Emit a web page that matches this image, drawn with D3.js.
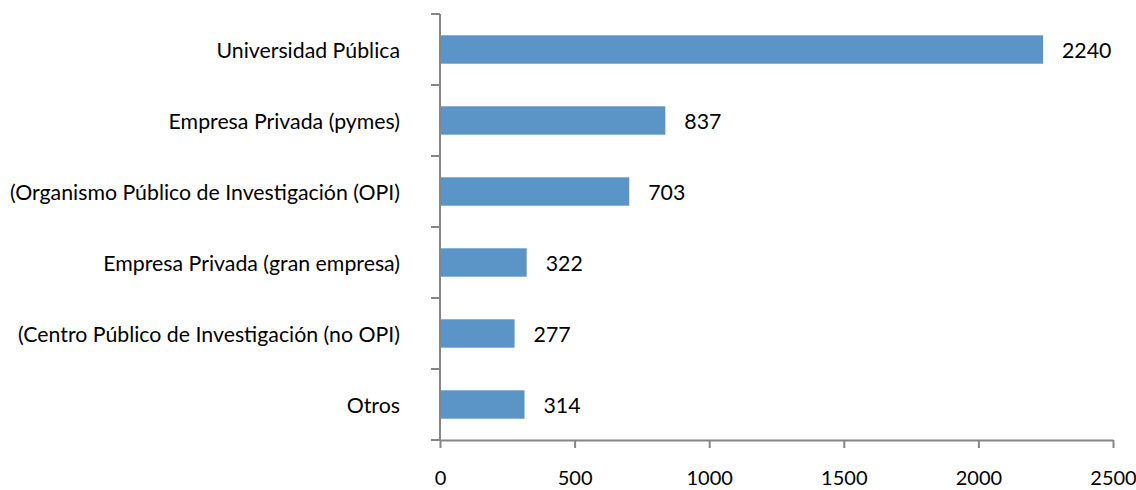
<!DOCTYPE html>
<html>
<head>
<meta charset="utf-8">
<script src="https://d3js.org/d3.v7.min.js"></script>
<style>
  body { margin: 0; background: #fff; }
  text { font-family: Lato, "Open Sans", sans-serif; font-weight: 400; fill: #000; }
</style>
</head>
<body>
<svg id="chart" width="1136" height="490"></svg>
<script>
// data
var categories = [
  "Universidad Pública",
  "Empresa Privada (pymes)",
  "(Organismo Público de Investigación (OPI)",
  "Empresa Privada (gran empresa)",
  "(Centro Público de Investigación (no OPI)",
  "Otros"
];
var values = [2240, 837, 703, 322, 277, 314];
var xTicks = [0, 500, 1000, 1500, 2000, 2500];

var svg = d3.select("#chart");
var plotL = 440, plotR = 1113, plotT = 14, plotB = 440;
var axisColor = "#868686";

var x = d3.scaleLinear().domain([0, 2500]).range([plotL, plotR]);
var y = d3.scaleBand().domain(categories).range([plotT, plotB])
  .paddingInner(0.6).paddingOuter(0.3);

var rows = categories.map(function(c, i) { return { cat: c, val: values[i] }; });

// bars
svg.selectAll("rect.bar").data(rows).enter().append("rect")
  .attr("class", "bar")
  .attr("x", x(0))
  .attr("y", function(d) { return y(d.cat); })
  .attr("width", function(d) { return x(d.val) - x(0); })
  .attr("height", y.bandwidth())
  .attr("fill", "#5b95c7");

// value labels
svg.selectAll("text.val").data(rows).enter().append("text")
  .attr("class", "val")
  .attr("x", function(d) { return x(d.val) + 19; })
  .attr("y", function(d) { return y(d.cat) + y.bandwidth() / 2; })
  .attr("dy", "0.4em")
  .style("font-size", "21.3px")
  .text(function(d) { return d.val; });

// y axis: line with ticks on band edges
var edges = d3.range(categories.length + 1).map(function(i) { return plotT + i * y.step(); });
svg.append("line")
  .attr("x1", plotL).attr("x2", plotL).attr("y1", plotT).attr("y2", plotB)
  .attr("stroke", axisColor).attr("stroke-width", 2);
svg.selectAll("line.ytick").data(edges).enter().append("line")
  .attr("class", "ytick")
  .attr("x1", plotL - 9).attr("x2", plotL)
  .attr("y1", function(d) { return d; }).attr("y2", function(d) { return d; })
  .attr("stroke", axisColor).attr("stroke-width", 2);
svg.selectAll("text.ylab").data(categories).enter().append("text")
  .attr("class", "ylab")
  .attr("x", plotL - 40)
  .attr("y", function(d) { return y(d) + y.bandwidth() / 2; })
  .attr("dy", "0.4em")
  .attr("text-anchor", "end")
  .style("font-size", "21.3px")
  .text(function(d) { return d; });

// x axis
var xAxis = d3.axisBottom(x).tickValues(xTicks).tickFormat(d3.format("d"))
  .tickSize(8).tickPadding(23).tickSizeOuter(0);
var gx = svg.append("g").attr("transform", "translate(0," + plotB + ")").call(xAxis);
gx.select(".domain").attr("stroke", axisColor).attr("stroke-width", 2);
gx.selectAll(".tick line").attr("stroke", axisColor).attr("stroke-width", 2);
gx.selectAll(".tick text").style("font-size", "20px").style("font-family", "Lato, sans-serif")
  .style("font-weight", 400).attr("fill", "#000");
</script>
</body>
</html>
